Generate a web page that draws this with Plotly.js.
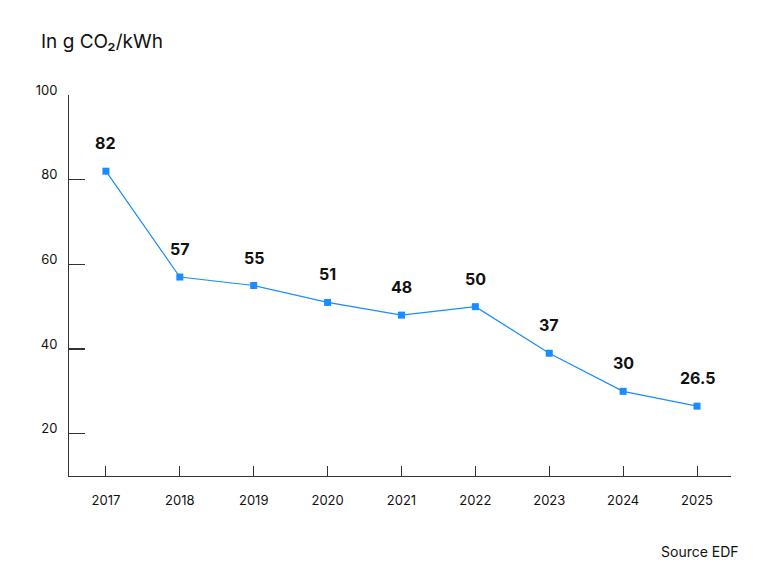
<!DOCTYPE html>
<html>
<head>
<meta charset="utf-8">
<script src="https://cdn.plot.ly/plotly-3.0.1.min.js"></script>
<style>
  html, body { margin: 0; padding: 0; background: #fff; }
  #chart { width: 768px; height: 576px; }
</style>
</head>
<body>
<div id="chart"></div>
<script>
var years = [2017, 2018, 2019, 2020, 2021, 2022, 2023, 2024, 2025]
var values = [82, 57, 55, 51, 48, 50, 39, 30, 26.5]
var valueLabels = ['82', '57', '55', '51', '48', '50', '37', '30', '26.5']
var yTicks = [20, 40, 60, 80, 100]

var FONT = 'Inter, "Noto Sans", sans-serif'
var BLUE = '#1a8cff'

// value labels sit a fixed distance above each point
var annotations = years.map(function(yr, i) {
    return {
        x: yr,
        y: values[i],
        text: '<b>' + valueLabels[i] + '</b>',
        showarrow: false,
        yshift: 28,
        font: { family: FONT, size: 16, color: '#111' }
    }
})

annotations.push({
    xref: 'paper', yref: 'paper',
    x: -0.045, y: 1.0,
    xanchor: 'left', yanchor: 'bottom',
    yshift: 40,
    text: 'In g CO₂/kWh',
    showarrow: false,
    font: { family: FONT, size: 19, color: '#111' }
})

annotations.push({
    xref: 'paper', yref: 'paper',
    x: 1.015, y: 0,
    xanchor: 'right', yanchor: 'top',
    yshift: -65,
    text: 'Source EDF',
    showarrow: false,
    font: { family: FONT, size: 14, color: '#111' }
})

Plotly.newPlot('chart', [{
    x: years,
    y: values,
    mode: 'lines+markers',
    line: { color: BLUE, width: 1.2 },
    marker: { symbol: 'square', size: 7, color: BLUE },
    hoverinfo: 'skip'
}], {
    width: 768,
    height: 576,
    margin: { l: 69, r: 37, t: 95, b: 100 },
    paper_bgcolor: '#fff',
    plot_bgcolor: '#fff',
    showlegend: false,
    font: { family: FONT, color: '#111' },
    xaxis: {
        range: [2016.5, 2025.46],
        tickvals: years,
        ticktext: years.map(String),
        ticks: 'inside',
        ticklen: 10,
        tickcolor: '#333',
        tickwidth: 1,
        showgrid: false,
        zeroline: false,
        showline: true,
        linecolor: '#333',
        linewidth: 1,
        ticklabelstandoff: 12,
        tickfont: { family: FONT, size: 13, color: '#111' }
    },
    yaxis: {
        range: [10, 100],
        tickvals: yTicks,
        ticks: 'inside',
        ticklen: 16,
        tickcolor: '#333',
        tickwidth: 1.2,
        showgrid: false,
        zeroline: false,
        showline: true,
        linecolor: '#333',
        linewidth: 1,
        ticklabelstandoff: 8,
        ticklabelshift: -5,
        tickfont: { family: FONT, size: 13, color: '#111' }
    },
    annotations: annotations
}, { staticPlot: true })
</script>
</body>
</html>
